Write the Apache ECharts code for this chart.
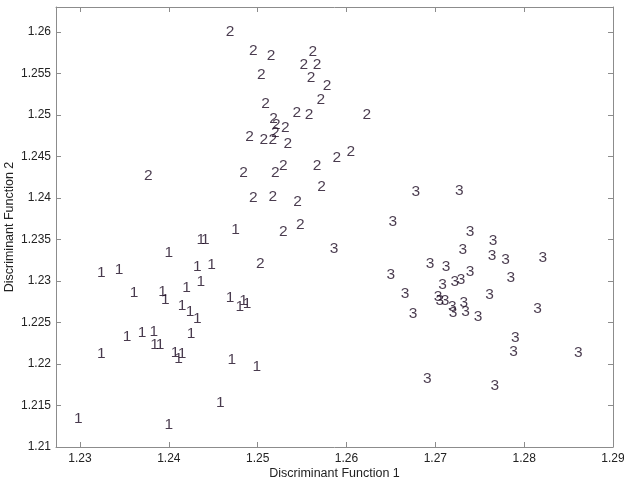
<!DOCTYPE html>
<html>
<head>
<meta charset="utf-8">
<script src="https://cdn.jsdelivr.net/npm/echarts@6/dist/echarts.min.js"></script>
<style>
  html, body { margin: 0; padding: 0; background: #fff; }
  #chart { width: 624px; height: 484px; }
</style>
</head>
<body>
<div id="chart"></div>
<script>
// group 1 points [DF1, DF2]
const group1 = [
  [1.2298, 1.2134], [1.2400, 1.2127], [1.2458, 1.2153], [1.2324, 1.2212],
  [1.2471, 1.2205], [1.2499, 1.2197], [1.2324, 1.2310], [1.2344, 1.2314],
  [1.2400, 1.2334], [1.2361, 1.2286], [1.2393, 1.2287], [1.2396, 1.2278],
  [1.2353, 1.2233], [1.2370, 1.2238], [1.2383, 1.2239], [1.2384, 1.2223],
  [1.2390, 1.2223], [1.2425, 1.2237], [1.2407, 1.2214], [1.2411, 1.2206],
  [1.2415, 1.2212], [1.2436, 1.2350], [1.2441, 1.2350], [1.2475, 1.2362],
  [1.2432, 1.2317], [1.2448, 1.2319], [1.2420, 1.2292], [1.2436, 1.2299],
  [1.2469, 1.2280], [1.2480, 1.2269], [1.2484, 1.2276], [1.2488, 1.2272],
  [1.2415, 1.2270], [1.2424, 1.2263], [1.2432, 1.2255]
];
// group 2 points
const group2 = [
  [1.2469, 1.2600], [1.2495, 1.2577], [1.2515, 1.2571], [1.2562, 1.2576],
  [1.2552, 1.2561], [1.2567, 1.2561], [1.2504, 1.2548], [1.2560, 1.2545],
  [1.2578, 1.2535], [1.2509, 1.2514], [1.2571, 1.2518], [1.2544, 1.2503],
  [1.2558, 1.2500], [1.2623, 1.2500], [1.2518, 1.2495], [1.2521, 1.2488],
  [1.2531, 1.2485], [1.2520, 1.2479], [1.2491, 1.2474], [1.2507, 1.2470],
  [1.2517, 1.2470], [1.2534, 1.2465], [1.2377, 1.2427], [1.2484, 1.2430],
  [1.2520, 1.2430], [1.2529, 1.2439], [1.2567, 1.2439], [1.2589, 1.2449],
  [1.2605, 1.2456], [1.2572, 1.2414], [1.2495, 1.2400], [1.2517, 1.2401],
  [1.2545, 1.2395], [1.2548, 1.2368], [1.2529, 1.2359], [1.2503, 1.2321]
];
// group 3 points
const group3 = [
  [1.2678, 1.2408], [1.2727, 1.2409], [1.2652, 1.2371], [1.2739, 1.2359],
  [1.2765, 1.2348], [1.2731, 1.2338], [1.2764, 1.2331], [1.2779, 1.2325],
  [1.2821, 1.2328], [1.2694, 1.2321], [1.2712, 1.2317], [1.2739, 1.2311],
  [1.2650, 1.2308], [1.2722, 1.2299], [1.2729, 1.2302], [1.2785, 1.2304],
  [1.2708, 1.2296], [1.2666, 1.2285], [1.2761, 1.2284], [1.2703, 1.2281],
  [1.2705, 1.2276], [1.2711, 1.2276], [1.2719, 1.2269], [1.2720, 1.2262],
  [1.2732, 1.2274], [1.2734, 1.2263], [1.2675, 1.2261], [1.2748, 1.2257],
  [1.2815, 1.2267], [1.2790, 1.2232], [1.2788, 1.2215], [1.2861, 1.2214],
  [1.2691, 1.2182], [1.2767, 1.2174], [1.2586, 1.2339]
];

const xTicks = [1.23, 1.24, 1.25, 1.26, 1.27, 1.28, 1.29];
const yTicks = [1.21, 1.215, 1.22, 1.225, 1.23, 1.235, 1.24, 1.245, 1.25, 1.255, 1.26];

const chart = echarts.init(document.getElementById('chart'));

const axisColor = '#8c8c8c';
const fontFam = '"Liberation Sans", Arial, sans-serif';

function textSeries(name, data) {
  return {
    name: name,
    type: 'scatter',
    data: data,
    symbol: 'circle',
    symbolSize: 1,
    itemStyle: { color: 'rgba(0,0,0,0)' },
    label: {
      show: true,
      formatter: name,
      position: 'inside',
      color: '#1c0a22',
      fontSize: 15.5,
      fontFamily: fontFam
    },
    emphasis: { disabled: true },
    animation: false
  };
}

function mainX(pos, showLabel) {
  return {
    type: 'value',
    position: pos,
    min: 1.2273,
    max: 1.29,
    name: showLabel ? 'Discriminant Function 1' : '',
    nameLocation: 'middle',
    nameGap: 20,
    nameMoveOverlap: false,
    nameTextStyle: { color: '#222', fontSize: 12.5, fontFamily: fontFam },
    axisLine: { show: true, onZero: false, lineStyle: { color: axisColor, width: 1 } },
    axisTick: { show: true, inside: true, length: 5, customValues: xTicks, lineStyle: { color: axisColor } },
    axisLabel: { show: showLabel, customValues: xTicks, color: '#222', fontSize: 12, fontFamily: fontFam, margin: 6,
      formatter: v => String(+v.toFixed(3)) },
    splitLine: { show: false }
  };
}

function mainY(pos, showLabel) {
  return {
    type: 'value',
    position: pos,
    min: 1.21,
    max: 1.263,
    name: showLabel ? 'Discriminant Function 2' : '',
    nameLocation: 'middle',
    nameGap: 40,
    nameMoveOverlap: false,
    nameRotate: 90,
    nameTextStyle: { color: '#222', fontSize: 12.5, fontFamily: fontFam },
    axisLine: { show: true, onZero: false, lineStyle: { color: axisColor, width: 1 } },
    axisTick: { show: true, inside: true, length: 5, customValues: yTicks, lineStyle: { color: axisColor } },
    axisLabel: { show: showLabel, customValues: yTicks, color: '#222', fontSize: 12, fontFamily: fontFam, margin: 5,
      formatter: v => String(+v.toFixed(3)) },
    splitLine: { show: false }
  };
}

chart.setOption({
  backgroundColor: '#fff',
  animation: false,
  grid: { left: 56, right: 11, top: 7, bottom: 37, containLabel: false, outerBoundsMode: 'none' },
  xAxis: [mainX('bottom', true), mainX('top', false)],
  yAxis: [mainY('left', true), mainY('right', false)],
  series: [
    textSeries('1', group1),
    textSeries('2', group2),
    textSeries('3', group3)
  ]
});
</script>
</body>
</html>
